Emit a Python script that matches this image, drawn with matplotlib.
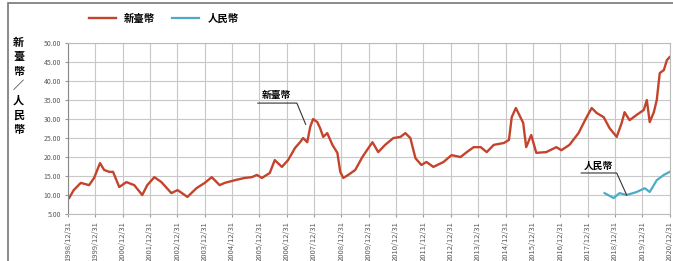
import numpy as np
import pandas as pd
import matplotlib
matplotlib.use("Agg")
import matplotlib.pyplot as plt
from matplotlib.patches import Rectangle

plt.rcParams['font.family'] = ['Noto Sans CJK TC', 'DejaVu Sans']

# 新臺幣 series
twd_dates = ["1998-12-31", "1999-01-12", "1999-03-18", "1999-06-20", "1999-10-09", "1999-12-15",
             "2000-03-03", "2000-04-27", "2000-07-03", "2000-08-24", "2000-11-15",
             "2001-02-18", "2001-06-03", "2001-09-18", "2001-11-24",
             "2002-02-27", "2002-06-01", "2002-10-12",
             "2003-01-03", "2003-05-15", "2003-09-12",
             "2004-01-01", "2004-04-03", "2004-07-18", "2004-09-24",
             "2005-02-06", "2005-06-18", "2005-09-21", "2005-11-27",
             "2006-02-03", "2006-05-18", "2006-07-24", "2006-10-27",
             "2007-01-18", "2007-04-21", "2007-06-27", "2007-08-06", "2007-10-01",
             "2007-11-09", "2007-12-18",
             "2008-02-12", "2008-03-21", "2008-05-01", "2008-06-24", "2008-09-01",
             "2008-11-06", "2008-12-15",
             "2009-01-24", "2009-04-01", "2009-07-03", "2009-10-06", "2009-12-27",
             "2010-02-18", "2010-05-06", "2010-08-06", "2010-11-24",
             "2011-02-27", "2011-05-03", "2011-07-09", "2011-09-15", "2011-12-03",
             "2012-02-09", "2012-05-12", "2012-09-24",
             "2013-01-09", "2013-05-09", "2013-08-01", "2013-11-01",
             "2014-02-03", "2014-04-24", "2014-07-27", "2014-12-09",
             "2015-02-15", "2015-03-24", "2015-05-18", "2015-08-24", "2015-10-03", "2015-12-09",
             "2016-02-15", "2016-06-27", "2016-11-09",
             "2017-01-15", "2017-05-03", "2017-09-01", "2017-12-18",
             "2018-02-24", "2018-05-01", "2018-08-03", "2018-10-21",
             "2019-01-24", "2019-04-01", "2019-05-09", "2019-07-15", "2019-10-18",
             "2020-01-21", "2020-03-01", "2020-04-09", "2020-06-03", "2020-07-12",
             "2020-08-21", "2020-10-15", "2020-11-24", "2020-12-31"]
twd_values = [9.3, 9.1, 11.3, 13.2, 12.6, 14.5,
              18.4, 16.6, 16.1, 16.1, 12.1,
              13.4, 12.6, 10.0, 12.6,
              14.7, 13.4, 10.5,
              11.3, 9.5, 11.8,
              13.2, 14.7, 12.6, 13.2,
              13.9, 14.5, 14.7, 15.3,
              14.5, 15.8, 19.2, 17.4,
              19.2, 22.4, 23.9, 25.0, 23.9,
              27.9, 30.0,
              29.2, 27.6, 25.3, 26.3, 23.2,
              21.1, 16.1,
              14.5, 15.3, 16.6, 20.0, 22.4,
              23.9, 21.3, 23.2, 25.0,
              25.3, 26.3, 25.0, 19.7, 17.9,
              18.7, 17.4, 18.7,
              20.5, 20.0, 21.3, 22.6,
              22.6, 21.3, 23.2, 23.7,
              24.5, 30.5, 32.9, 29.0, 22.6, 25.8,
              21.1, 21.3, 22.6,
              21.8, 23.2, 26.3, 30.5,
              32.9, 31.6, 30.5, 27.6,
              25.3, 29.0, 31.8, 29.7, 31.1,
              32.4, 35.0, 29.2, 31.8, 35.0,
              42.1, 42.9, 45.5, 46.3]

# 人民幣 series
cny_dates = ["2018-08-15", "2018-12-15", "2019-03-03", "2019-06-06", "2019-10-18",
             "2020-02-03", "2020-04-09", "2020-07-12", "2020-10-15", "2020-12-31"]
cny_values = [10.5, 9.2, 10.5, 10.0, 10.8, 11.8, 10.8, 13.9, 15.3, 16.1]

tick_dates = pd.date_range("1998-12-31", periods=23, freq="YE-DEC")
y_ticks = np.arange(5, 51, 5)

fig = plt.figure(figsize=(6.73, 2.61), dpi=100)
ax = fig.add_axes([0.101, 0.18, 0.894, 0.655])

red = "#C4432C"
teal = "#4BACC6"
ax.plot(pd.to_datetime(twd_dates), twd_values, color=red, lw=1.7, label="新臺幣")
ax.plot(pd.to_datetime(cny_dates), cny_values, color=teal, lw=1.6, label="人民幣")

ax.set_xlim(tick_dates[0], tick_dates[-1])
ax.set_ylim(5, 50)
ax.set_yticks(y_ticks)
ax.set_yticklabels(["%.2f" % v for v in y_ticks], fontsize=5, color="#595959")
ax.set_xticks(tick_dates)
ax.set_xticklabels([d.strftime("%Y/%m/%d") for d in tick_dates], rotation=90,
                   fontsize=5.5, color="#595959")
ax.tick_params(length=2, color="#999999", pad=3)
ax.grid(True, color="#c8c8c8", lw=0.8)
ax.set_axisbelow(True)
for s in ax.spines.values():
    s.set_color("#bbbbbb")
ax.spines['left'].set_color("#888888")

ax.set_ylabel("新\n臺\n幣\n／\n人\n民\n幣", rotation=0, fontsize=8, fontweight="bold",
              linespacing=1.15, va="center", labelpad=18)
ax.yaxis.set_label_coords(-0.082, 0.75)

# leader-line labels
ax.plot(pd.to_datetime(["2005-12-10", "2007-05-15", "2007-09-10"]), [34.2, 34.2, 28.6],
        color="#333333", lw=0.8)
ax.text(pd.Timestamp("2006-08-15"), 35.0, "新臺幣", fontsize=7, fontweight="bold",
        ha="center", va="bottom")
ax.plot(pd.to_datetime(["2017-10-08", "2019-01-24", "2019-06-06"]), [15.8, 15.8, 10.0],
        color="#333333", lw=0.8)
ax.text(pd.Timestamp("2018-05-25"), 16.4, "人民幣", fontsize=7, fontweight="bold",
        ha="center", va="bottom")

fig.legend(loc="upper left", bbox_to_anchor=(0.118, 0.985), ncol=2, frameon=False,
           prop={"size": 7.5, "weight": "bold"}, handlelength=2.6, columnspacing=1.6,
           handletextpad=0.8)

# outer chart frame
fig.patches.append(Rectangle((8 / 673, -0.1), 1.2, 1.1 - 3 / 261, transform=fig.transFigure,
                             fill=False, edgecolor="#777777", lw=1.2))

fig.savefig("out.png", dpi=100)
